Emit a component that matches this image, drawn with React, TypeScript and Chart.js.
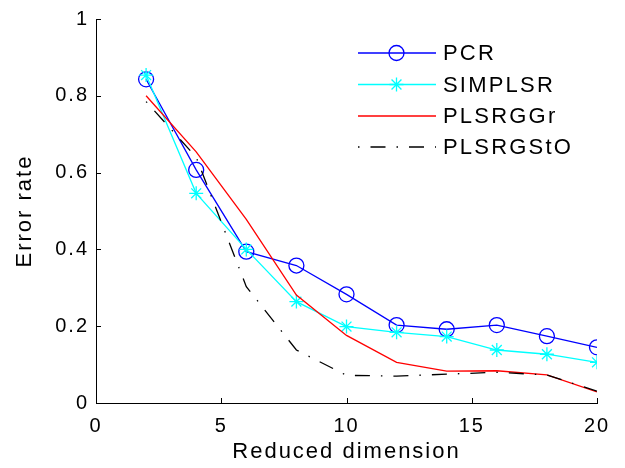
import React, { useEffect, useRef } from "react";
import { Chart, registerables } from "chart.js";

Chart.register(...registerables);

const dims = [2, 4, 6, 8, 10, 12, 14, 16, 18, 20];
const pcr = [0.843, 0.607, 0.394, 0.358, 0.283, 0.203, 0.192, 0.203, 0.174, 0.145];
const simplsr = [0.854, 0.546, 0.4, 0.264, 0.199, 0.184, 0.173, 0.138, 0.127, 0.106];
const plsrggr = [0.8, 0.654, 0.478, 0.281, 0.176, 0.106, 0.083, 0.084, 0.073, 0.029];
const plsrgsto = [0.785, 0.64, 0.303, 0.138, 0.072, 0.07, 0.075, 0.08, 0.073, 0.031];
const seriesNames = ["PCR", "SIMPLSR", "PLSRGGr", "PLSRGStO"];
const xTicks = [0, 5, 10, 15, 20];
const yTicks = [0, 0.2, 0.4, 0.6, 0.8, 1];

const FONT = "'Liberation Sans', Arial, Helvetica, sans-serif";
const DASHDOT = [1.5, 11, 15, 11];

const toXY = (ys: number[]) => ys.map((y, i) => ({ x: dims[i], y }));

const spacing = {
  id: "spacing",
  beforeDraw(chart: any) {
    (chart.ctx as any).letterSpacing = "2px";
  },
};

const inwardTicks = {
  id: "inwardTicks",
  afterDraw(chart: any) {
    const { ctx, chartArea } = chart;
    const xs = chart.scales.x;
    const ys = chart.scales.y;
    ctx.save();
    ctx.strokeStyle = "#000";
    ctx.lineWidth = 1;
    ctx.beginPath();
    xTicks.forEach((v) => {
      const px = Math.round(xs.getPixelForValue(v)) + 0.5;
      ctx.moveTo(px, chartArea.bottom);
      ctx.lineTo(px, chartArea.bottom - 5);
    });
    yTicks.forEach((v) => {
      const py = Math.round(ys.getPixelForValue(v)) + 0.5;
      ctx.moveTo(chartArea.left, py);
      ctx.lineTo(chartArea.left + 5, py);
    });
    ctx.stroke();
    ctx.restore();
  },
};

const customLegend = {
  id: "customLegend",
  afterDraw(chart: any) {
    const { ctx } = chart;
    const rows = [53, 84.5, 116, 147];
    const x0 = 358;
    const x1 = 436;
    const xm = 396.5;
    ctx.save();
    chart.data.datasets.forEach((ds: any, i: number) => {
      const y = rows[i];
      ctx.save();
      ctx.strokeStyle = ds.borderColor;
      ctx.lineWidth = ds.borderWidth;
      ctx.setLineDash(ds.borderDash || []);
      ctx.beginPath();
      ctx.moveTo(x0, y);
      ctx.lineTo(x1, y);
      ctx.stroke();
      ctx.restore();
      if (ds.pointRadius > 0) {
        ctx.save();
        ctx.strokeStyle = ds.pointBorderColor;
        ctx.lineWidth = ds.pointBorderWidth;
        ctx.setLineDash([]);
        const r = ds.pointRadius;
        ctx.beginPath();
        if (ds.pointStyle === "circle") {
          ctx.arc(xm, y, r, 0, Math.PI * 2);
        } else {
          for (let k = 0; k < 4; k++) {
            const a = (k * Math.PI) / 4;
            ctx.moveTo(xm - Math.cos(a) * r, y - Math.sin(a) * r);
            ctx.lineTo(xm + Math.cos(a) * r, y + Math.sin(a) * r);
          }
        }
        ctx.stroke();
        ctx.restore();
      }
      ctx.fillStyle = "#000";
      ctx.font = `22px ${FONT}`;
      (ctx as any).letterSpacing = "2.2px";
      ctx.textBaseline = "middle";
      ctx.textAlign = "left";
      ctx.fillText(ds.label, 443, y + 1);
    });
    ctx.restore();
  },
};

export default function App() {
  const ref = useRef<HTMLCanvasElement | null>(null);
  useEffect(() => {
    if (!ref.current) return;
    const chart = new Chart(ref.current, {
      type: "line",
      data: {
        datasets: [
          {
            label: seriesNames[0],
            data: toXY(pcr),
            borderColor: "#0000FF",
            borderWidth: 1.3,
            pointStyle: "circle",
            pointRadius: 7.5,
            pointBorderColor: "#0000FF",
            pointBackgroundColor: "rgba(0,0,0,0)",
            pointBorderWidth: 1.3,
            tension: 0,
            order: 4,
          },
          {
            label: seriesNames[1],
            data: toXY(simplsr),
            borderColor: "#00FFFF",
            borderWidth: 1.3,
            pointStyle: "star",
            pointRadius: 7,
            pointBorderColor: "#00FFFF",
            pointBackgroundColor: "rgba(0,0,0,0)",
            pointBorderWidth: 1.3,
            tension: 0,
            order: 3,
          },
          {
            label: seriesNames[2],
            data: toXY(plsrggr),
            borderColor: "#FF0000",
            borderWidth: 1.3,
            pointRadius: 0,
            tension: 0,
            order: 2,
          },
          {
            label: seriesNames[3],
            data: toXY(plsrgsto),
            borderColor: "#000000",
            borderWidth: 1.3,
            borderDash: DASHDOT,
            pointRadius: 0,
            tension: 0,
            order: 1,
          },
        ],
      },
      options: {
        animation: false,
        responsive: true,
        maintainAspectRatio: false,
        events: [],
        layout: { padding: { left: 0, right: 28, top: 19, bottom: 0 } },
        plugins: {
          legend: { display: false },
          tooltip: { enabled: false },
        },
        scales: {
          x: {
            type: "linear",
            min: 0,
            max: 20,
            afterBuildTicks: (s: any) => {
              s.ticks = xTicks.map((v) => ({ value: v }));
            },
            afterFit: (s: any) => {
              s.height = 65;
            },
            ticks: {
              color: "#000",
              font: { family: FONT, size: 20 },
              padding: 11,
              maxRotation: 0,
              autoSkip: false,
            },
            grid: { display: false, drawTicks: false },
            border: { display: true, color: "#000", width: 1 },
            title: {
              display: true,
              text: "Reduced dimension",
              color: "#000",
              font: { family: FONT, size: 22 },
              padding: { top: 0, bottom: 3 },
            },
          },
          y: {
            type: "linear",
            min: 0,
            max: 1,
            afterBuildTicks: (s: any) => {
              s.ticks = yTicks.map((v) => ({ value: v }));
            },
            afterFit: (s: any) => {
              s.width = 96;
            },
            ticks: {
              color: "#000",
              font: { family: FONT, size: 20 },
              padding: 7,
              autoSkip: false,
              callback: (v: any) => String(Math.round(Number(v) * 10) / 10),
            },
            grid: { display: false, drawTicks: false },
            border: { display: true, color: "#000", width: 1 },
            title: {
              display: true,
              text: "Error rate",
              color: "#000",
              font: { family: FONT, size: 22 },
              padding: { top: 12, bottom: 0 },
            },
          },
        },
      },
      plugins: [spacing, inwardTicks, customLegend],
    } as any);
    return () => chart.destroy();
  }, []);
  return (
    <div
      style={{
        position: "fixed",
        left: 0,
        top: 0,
        width: 625,
        height: 468,
        background: "#fff",
      }}
    >
      <canvas ref={ref} />
    </div>
  );
}
